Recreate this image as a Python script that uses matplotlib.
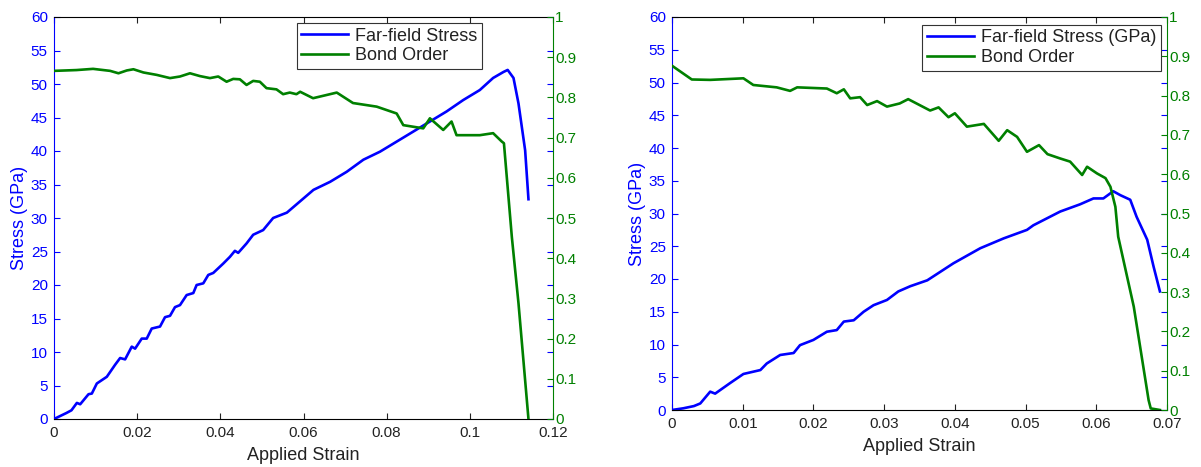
import matplotlib
matplotlib.use("Agg")
import matplotlib.pyplot as plt
from matplotlib.lines import Line2D

plt.rcParams["font.family"] = ["Liberation Sans", "DejaVu Sans"]

BLUE = "#0000FF"
GREEN = "#008000"

# ---- left panel data ----
left_stress_x = [0, 0.003, 0.0042, 0.0055, 0.0063, 0.0083, 0.0091, 0.0103, 0.0127, 0.0147,
                 0.0159, 0.0171, 0.0187, 0.0195, 0.0211, 0.0223, 0.0235, 0.0255, 0.0267, 0.0279,
                 0.0291, 0.0303, 0.0319, 0.0335, 0.0343, 0.0359, 0.0371, 0.0383, 0.0407, 0.0423,
                 0.0435, 0.0443, 0.0463, 0.0479, 0.0503, 0.0527, 0.0560, 0.0592, 0.0624, 0.0664,
                 0.0704, 0.0744, 0.0784, 0.0824, 0.0864, 0.0904, 0.0944, 0.0984, 0.1024, 0.1056,
                 0.1081, 0.1091, 0.1105, 0.1117, 0.1133, 0.1141]
left_stress = [0, 0.9, 1.3, 2.4, 2.2, 3.7, 3.8, 5.3, 6.3, 8.1,
               9.1, 8.9, 10.8, 10.5, 12.0, 12.0, 13.5, 13.8, 15.2, 15.4,
               16.7, 17.0, 18.5, 18.8, 20.0, 20.25, 21.5, 21.8, 23.2, 24.2,
               25.1, 24.8, 26.2, 27.5, 28.2, 30.0, 30.8, 32.5, 34.2, 35.4,
               36.9, 38.7, 39.9, 41.4, 42.9, 44.4, 45.9, 47.6, 49.1, 50.9,
               51.8, 52.1, 50.9, 47.1, 40.1, 32.8]

left_bond_x = [0, 0.0054, 0.0094, 0.0135, 0.0155, 0.0175, 0.0191, 0.0215, 0.0247, 0.0279,
               0.0303, 0.0327, 0.0351, 0.0375, 0.0395, 0.0415, 0.0431, 0.0447, 0.0463, 0.0479,
               0.0495, 0.0511, 0.0535, 0.0551, 0.0567, 0.0583, 0.0592, 0.0623, 0.068, 0.0719,
               0.0776, 0.0824, 0.0840, 0.0888, 0.0904, 0.0936, 0.0956, 0.0968, 0.1024, 0.1056,
               0.1077, 0.1082, 0.1101, 0.1117, 0.1141]
left_bond = [0.866, 0.868, 0.871, 0.866, 0.860, 0.867, 0.870, 0.862, 0.856, 0.848,
             0.852, 0.860, 0.853, 0.848, 0.852, 0.839, 0.846, 0.845, 0.831, 0.841,
             0.839, 0.823, 0.820, 0.808, 0.812, 0.808, 0.814, 0.798, 0.812, 0.786,
             0.777, 0.760, 0.731, 0.723, 0.748, 0.719, 0.740, 0.706, 0.706, 0.711,
             0.690, 0.686, 0.453, 0.288, 0.0]

# ---- right panel data ----
right_stress_x = [0, 0.0016, 0.0031, 0.0040, 0.0054, 0.0061, 0.0082, 0.0101, 0.0125, 0.0134,
                  0.0153, 0.0172, 0.0181, 0.0200, 0.0219, 0.0233, 0.0243, 0.0257, 0.0271, 0.0285,
                  0.0304, 0.0320, 0.0337, 0.0361, 0.0398, 0.0436, 0.0469, 0.0502, 0.0511, 0.0549,
                  0.0577, 0.0596, 0.0610, 0.0624, 0.0634, 0.0648, 0.0657, 0.0672, 0.0681, 0.0690]
right_stress = [0, 0.26, 0.6, 1.0, 2.8, 2.5, 4.1, 5.5, 6.1, 7.1,
                8.4, 8.7, 9.9, 10.7, 11.95, 12.2, 13.5, 13.7, 15.0, 16.0,
                16.8, 18.1, 18.9, 19.8, 22.4, 24.7, 26.2, 27.5, 28.2, 30.3,
                31.4, 32.3, 32.3, 33.4, 32.8, 32.1, 29.5, 26.0, 21.9, 18.1]

right_bond_x = [0, 0.0028, 0.0054, 0.0101, 0.0115, 0.0148, 0.0167, 0.0177, 0.0219, 0.0233,
                0.0243, 0.0252, 0.0266, 0.0276, 0.0290, 0.0304, 0.0322, 0.0334, 0.0365, 0.0377,
                0.0391, 0.0400, 0.0417, 0.0441, 0.0462, 0.0474, 0.0488, 0.0502, 0.0519, 0.0531,
                0.0549, 0.0563, 0.0580, 0.0587, 0.0601, 0.0613, 0.0620, 0.0627, 0.0631, 0.0653,
                0.0674, 0.0677, 0.0690]
right_bond = [0.876, 0.841, 0.840, 0.844, 0.827, 0.821, 0.812, 0.821, 0.818, 0.806,
              0.816, 0.793, 0.796, 0.776, 0.786, 0.772, 0.780, 0.791, 0.762, 0.770,
              0.745, 0.755, 0.721, 0.728, 0.685, 0.712, 0.695, 0.657, 0.674, 0.651,
              0.640, 0.632, 0.598, 0.619, 0.602, 0.590, 0.568, 0.517, 0.441, 0.263,
              0.025, 0.004, 0.0]

# ---- ticks ----
stress_ticks = list(range(0, 61, 5))
bond_ticks = [0, 0.1, 0.2, 0.3, 0.4, 0.5, 0.6, 0.7, 0.8, 0.9, 1]
bond_labels = ["0", "0.1", "0.2", "0.3", "0.4", "0.5", "0.6", "0.7", "0.8", "0.9", "1"]
left_xticks = [0, 0.02, 0.04, 0.06, 0.08, 0.1, 0.12]
left_xlabels = ["0", "0.02", "0.04", "0.06", "0.08", "0.1", "0.12"]
right_xticks = [0, 0.01, 0.02, 0.03, 0.04, 0.05, 0.06, 0.07]
right_xlabels = ["0", "0.01", "0.02", "0.03", "0.04", "0.05", "0.06", "0.07"]

W, H = 1201, 467
fig = plt.figure(figsize=(W / 100, H / 100), dpi=100)


def panel(rect, sx, sy, bx, by, xticks, xlabels, xmax, legend_names, leg_anchor):
    ax = fig.add_axes(rect)
    ax2 = ax.twinx()

    ax.plot(sx, sy, color=BLUE, lw=1.9)
    ax2.plot(bx, by, color=GREEN, lw=1.9)

    ax.set_xlim(0, xmax)
    ax.set_ylim(0, 60)
    ax2.set_ylim(0, 1)

    ax.set_xticks(xticks)
    ax.set_xticklabels(xlabels)
    ax.set_yticks(stress_ticks)
    ax.set_yticklabels([str(v) for v in stress_ticks])
    ax2.set_yticks(bond_ticks)
    ax2.set_yticklabels(bond_labels)

    ax.tick_params(axis="x", direction="in", top=True, length=4.5, width=0.8,
                   labelsize=11, pad=5, colors="#222222")
    ax.tick_params(axis="y", direction="in", left=True, right=True, labelright=False,
                   length=4.5, width=0.8, labelsize=11, pad=4.5, colors=BLUE)
    ax2.tick_params(axis="y", direction="in", length=4.5, width=0.8, labelsize=11,
                    pad=1.5, colors=GREEN)

    ax.spines["left"].set_color(BLUE)
    ax.spines["right"].set_visible(False)
    ax.spines["top"].set_color("black")
    ax.spines["bottom"].set_color("black")
    ax2.spines["left"].set_visible(False)
    ax2.spines["top"].set_visible(False)
    ax2.spines["bottom"].set_visible(False)
    ax2.spines["right"].set_color(GREEN)

    ax.set_xlabel("Applied Strain", fontsize=13, color="#222222")
    ax.xaxis.set_label_coords(0.5, -0.07)
    ax.set_ylabel("Stress (GPa)", fontsize=13, color=BLUE)
    ax.yaxis.set_label_coords(-0.053, 0.5)

    handles = [Line2D([], [], color=BLUE, lw=1.9), Line2D([], [], color=GREEN, lw=1.9)]
    leg = ax2.legend(handles, legend_names, loc="upper right", bbox_to_anchor=leg_anchor,
                     fontsize=13, fancybox=False, framealpha=1, edgecolor="#333333",
                     handlelength=2.6, borderpad=0.25, labelspacing=0.15,
                     handletextpad=0.4, borderaxespad=0)
    leg.get_frame().set_linewidth(0.8)
    for t in leg.get_texts():
        t.set_color("#222222")
    return ax, ax2


panel([54 / W, (H - 419) / H, 499 / W, 402 / H],
      left_stress_x, left_stress, left_bond_x, left_bond,
      left_xticks, left_xlabels, 0.12,
      ["Far-field Stress", "Bond Order"], (0.858, 0.985))

panel([672 / W, (H - 410) / H, 495 / W, 393 / H],
      right_stress_x, right_stress, right_bond_x, right_bond,
      right_xticks, right_xlabels, 0.07,
      ["Far-field Stress (GPa)", "Bond Order"], (0.988, 0.98))

fig.savefig("out.png", dpi=100)
